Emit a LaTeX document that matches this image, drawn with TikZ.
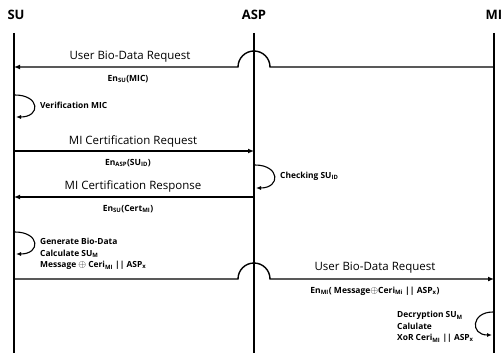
\documentclass[tikz,border=0pt]{standalone}
\usepackage{fontspec}
\setmainfont{Open Sans}
\usetikzlibrary{arrows.meta,positioning}
\newcommand{\lsub}[1]{\textsubscript{#1}}
\newcommand{\xor}{{\fontsize{10}{10}\selectfont$\oplus$}}
\tikzset{
  party/.style={font=\bfseries\fontsize{13}{15}\selectfont,inner sep=0pt},
  life/.style={line width=1.6pt},
  msg/.style={line width=1.4pt,-{Latex[length=6pt,width=5pt]}},
  self/.style={line width=1.1pt,-{Latex[length=5pt,width=4pt]}},
  lbl/.style={font=\fontsize{11.5}{13}\selectfont,inner sep=0pt},
  enc/.style={font=\bfseries\fontsize{8.5}{10}\selectfont,inner sep=0pt},
  note/.style={font=\bfseries\fontsize{8.4}{11.6}\selectfont,inner sep=0pt,align=left,anchor=west},
}

\begin{document}
\begin{tikzpicture}[x=1pt,y=-1pt]
\useasboundingbox (0,0) rectangle (503,353);
% parties and lifelines
\node (su) [party] at (16,15) {SU};
\node (asp) [party] at (254,15) {ASP};
\node (mi) [party] at (494,15) {MI};
\coordinate (suT) at (14,33);  \coordinate (suB) at (14,353);
\coordinate (aspT) at (254,33); \coordinate (aspB) at (254,353);
\coordinate (miT) at (494,33);  \coordinate (miB) at (494,353);
\draw[life] (suT) -- (suB);
\draw[life] (aspT) -- (aspB);
\draw[life] (miT) -- (miB);
%
% MI -> SU, hops over ASP
\coordinate (m1mi) at (494,67); \coordinate (m1r) at (270,67); \coordinate (m1su) at (14,67);
\draw[msg] (m1mi) -- (m1r) arc[start angle=0,end angle=-180,radius=16] -- (m1su);
\node (l1) [lbl] at (130,57) {User Bio-Data Request};
\node (e1) [enc] at (128,79) {En\lsub{SU}(MIC)};
%
\coordinate (s1a) at (15,95); \coordinate (s1b) at (16,117);
\draw[self] (s1a) .. controls +(25,0) and +(25,0) .. (s1b);
\node (n1) [note] at (40,105) {Verification MIC};
%
% SU -> ASP
\coordinate (m2su) at (14,151); \coordinate (m2asp) at (254,151);
\draw[msg] (m2su) -- (m2asp);
\node (l2) [lbl] at (133,141) {MI Certification Request};
\node (e2) [enc] at (128,163) {En\lsub{ASP}(SU\lsub{ID})};
%
\coordinate (s2a) at (255,165); \coordinate (s2b) at (256,188);
\draw[self] (s2a) .. controls +(25,0) and +(25,0) .. (s2b);
\node (n2) [note] at (280,176) {Checking SU\lsub{ID}};
%
% ASP -> SU
\coordinate (m3asp) at (254,197); \coordinate (m3su) at (14,197);
\draw[msg] (m3asp) -- (m3su);
\node (l3) [lbl] at (133,186) {MI Certification Response};
\node (e3) [enc] at (128,209) {En\lsub{SU}(Cert\lsub{MI})};
%
\coordinate (s3a) at (15,232); \coordinate (s3b) at (16,254);
\draw[self] (s3a) .. controls +(25,0) and +(25,0) .. (s3b);
\node (n3) [note] at (40,254) {Generate Bio-Data\\Calculate SU\lsub{M}\\Message \xor{} Ceri\lsub{MI} || ASP\lsub{x}};
%
% SU -> MI, hops over ASP
\coordinate (m4su) at (14,279); \coordinate (m4l) at (238,279); \coordinate (m4mi) at (494,279);
\draw[msg] (m4su) -- (m4l) arc[start angle=180,end angle=360,radius=16] -- (m4mi);
\node (l4) [lbl] at (375,268) {User Bio-Data Request};
\node (e4) [enc] at (375,291) {En\lsub{MI}( Message\xor Ceri\lsub{Mi} || ASP\lsub{x})};
%
\coordinate (s4a) at (493,312); \coordinate (s4b) at (492,335);
\draw[self] (s4a) .. controls +(-22,0) and +(-22,0) .. (s4b);
\node (n4) [note] at (397,327) {Decryption SU\lsub{M}\\Calulate\\XoR Ceri\lsub{MI} || ASP\lsub{x}};
\end{tikzpicture}
\end{document}
